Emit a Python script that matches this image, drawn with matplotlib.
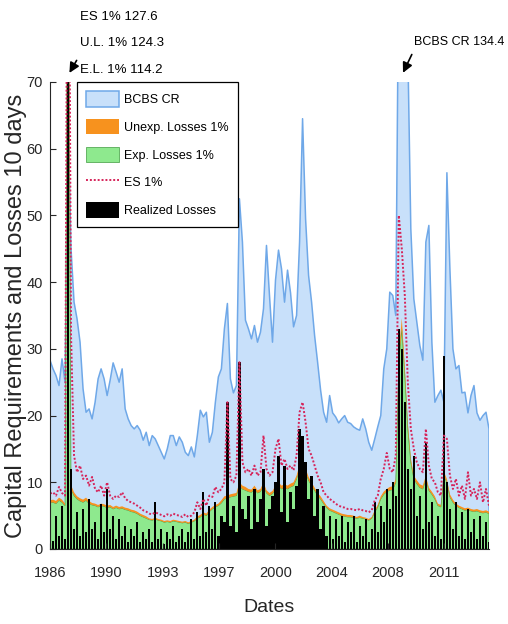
import matplotlib
matplotlib.use("Agg")
import matplotlib.pyplot as plt
import numpy as np

plt.rcParams['font.family'] = ['Liberation Sans', 'DejaVu Sans']

# 10-day capital requirement (BCBS) and loss measures, sampled along the dates axis
bcbs_cr = [28.3, 27.0, 26.0, 24.5, 28.5, 25.0, 63.5, 45.0, 37.0, 34.5,
           31.0, 24.0, 20.5, 21.0, 19.5, 22.0, 25.5, 27.0, 25.5, 23.0,
           25.3, 27.9, 26.5, 25.0, 27.0, 21.0, 19.5, 18.5, 18.0, 18.5,
           17.8, 16.3, 17.5, 15.5, 17.0, 16.5, 15.5, 14.5, 13.5, 15.0,
           17.0, 17.0, 15.5, 16.8, 16.0, 14.5, 14.0, 15.3, 13.8, 17.0,
           20.8, 19.8, 20.5, 16.0, 17.5, 22.0, 25.8, 27.0, 33.0, 36.8,
           25.5, 23.4, 24.5, 52.5, 46.0, 34.3, 33.0, 31.5, 33.5, 31.0,
           32.5, 36.0, 45.5, 38.0, 31.0, 40.3, 44.8, 42.0, 37.0, 41.8,
           38.4, 33.3, 35.0, 46.0, 64.5, 49.5, 41.0, 37.0, 32.0, 28.0,
           23.8, 20.5, 19.0, 23.0, 20.4, 19.8, 18.9, 19.5, 20.0, 19.0,
           18.8, 18.3, 18.0, 17.8, 19.5, 18.0, 16.0, 14.8, 16.5, 18.3,
           20.0, 27.0, 30.0, 38.5, 38.0, 35.0, 90.0, 134.4, 110.0, 75.0,
           48.0, 37.5, 34.0, 30.5, 28.3, 46.0, 48.5, 31.0, 22.0, 23.0,
           23.8, 22.0, 56.4, 42.0, 30.0, 27.0, 27.5, 23.4, 23.5, 20.4,
           23.0, 24.5, 20.4, 19.3, 20.0, 20.5, 18.0]

exp_loss = [6.9, 7.0, 6.8, 7.3, 7.0, 6.5, 114.2, 9.0, 8.0, 7.5,
            7.2, 7.0, 7.3, 6.8, 6.6, 6.5, 6.3, 6.5, 6.4, 6.2,
            6.3, 6.0, 6.2, 6.0, 6.1, 5.9, 5.8, 5.6, 5.5, 5.3,
            5.0, 4.8, 4.6, 4.4, 4.3, 4.5, 4.3, 4.2, 4.0, 4.1,
            4.0, 4.2, 4.1, 4.0, 3.9, 4.0, 3.8, 4.0, 4.2, 4.6,
            4.8, 5.2, 5.0, 5.6, 6.0, 6.3, 6.5, 6.9, 7.5, 7.6,
            7.8, 7.9, 8.0, 9.5, 9.0, 8.8, 8.6, 8.5, 9.0, 8.4,
            8.6, 9.5, 8.4, 8.0, 8.3, 9.0, 9.5, 9.0, 9.2, 9.0,
            9.3, 9.5, 10.5, 12.0, 13.0, 11.5, 10.3, 9.5, 8.8, 8.0,
            7.5, 6.8, 6.2, 5.8, 5.6, 5.4, 5.2, 5.0, 4.9, 4.8,
            4.8, 4.7, 4.6, 4.7, 4.6, 4.5, 4.3, 4.6, 5.5, 6.3,
            7.5, 8.2, 8.6, 8.8, 8.9, 10.0, 28.0, 33.0, 26.0, 18.0,
            13.0, 10.5, 9.8, 9.2, 9.0, 10.5, 8.8, 8.2, 7.5, 6.5,
            6.3, 11.0, 10.0, 7.8, 7.0, 6.5, 6.2, 6.0, 5.8, 5.9,
            5.7, 5.6, 5.7, 5.5, 5.4, 5.5, 5.3]

unexp_loss = [0.4, 0.4, 0.4, 0.4, 0.4, 0.3, 10.1, 0.6, 0.5, 0.4,
              0.4, 0.4, 0.4, 0.4, 0.3, 0.3, 0.3, 0.3, 0.3, 0.3,
              0.3, 0.3, 0.3, 0.3, 0.3, 0.3, 0.3, 0.3, 0.3, 0.3,
              0.3, 0.3, 0.3, 0.2, 0.2, 0.2, 0.2, 0.2, 0.2, 0.2,
              0.2, 0.2, 0.2, 0.2, 0.2, 0.2, 0.2, 0.2, 0.2, 0.3,
              0.3, 0.3, 0.3, 0.3, 0.3, 0.3, 0.3, 0.4, 0.4, 0.4,
              0.4, 0.4, 0.4, 0.5, 0.5, 0.5, 0.4, 0.4, 0.5, 0.4,
              0.4, 0.5, 0.4, 0.4, 0.4, 0.5, 0.5, 0.5, 0.5, 0.5,
              0.5, 0.5, 0.5, 0.6, 0.7, 0.6, 0.5, 0.5, 0.4, 0.4,
              0.4, 0.4, 0.3, 0.3, 0.3, 0.3, 0.3, 0.3, 0.3, 0.3,
              0.3, 0.3, 0.2, 0.3, 0.2, 0.2, 0.2, 0.2, 0.3, 0.3,
              0.4, 0.4, 0.4, 0.5, 0.5, 0.5, 1.3, 1.6, 1.3, 0.9,
              0.6, 0.5, 0.5, 0.5, 0.5, 0.5, 0.4, 0.4, 0.4, 0.3,
              0.3, 0.6, 0.5, 0.4, 0.4, 0.3, 0.3, 0.3, 0.3, 0.3,
              0.3, 0.3, 0.3, 0.3, 0.3, 0.3, 0.3]

es_1pct = [8.3, 8.5, 8.0, 9.3, 8.4, 8.0, 127.6, 32.0, 14.0, 11.5,
           12.5, 10.5, 11.0, 9.5, 10.8, 9.0, 8.5, 9.5, 8.0, 10.0,
           8.0, 7.5, 8.0, 7.8, 8.5, 7.6, 7.2, 7.0, 6.8, 6.5,
           6.2, 5.8, 5.6, 5.3, 5.2, 5.5, 5.3, 5.1, 4.9, 5.2,
           5.0, 5.3, 5.1, 5.0, 4.8, 5.2, 4.8, 5.0, 5.5, 7.0,
           6.0, 7.5, 6.5, 8.0, 7.8, 9.3, 8.5, 9.0, 10.0, 22.0,
           10.5, 10.0, 11.0, 28.0, 13.0, 11.5, 12.0, 11.0, 12.5, 11.0,
           11.5, 17.0, 12.0, 11.0, 11.5, 15.0, 16.5, 12.5, 13.5, 12.0,
           12.5, 11.8, 14.0, 20.5, 22.0, 19.0, 15.0, 14.0, 12.5, 11.0,
           10.0, 8.5, 8.0, 7.5, 7.2, 6.8, 6.5, 6.3, 6.2, 6.0,
           6.0, 5.9, 5.8, 6.0, 5.8, 5.7, 5.5, 5.8, 7.3, 8.0,
           10.5, 12.0, 14.4, 12.0, 11.5, 14.0, 50.0, 45.0, 38.0, 25.0,
           18.0, 15.0, 13.0, 12.0, 11.5, 18.0, 12.5, 10.5, 10.0, 8.5,
           8.0, 17.0, 16.5, 11.0, 9.0, 10.5, 8.0, 9.5, 7.5, 11.5,
           8.0, 9.0, 7.5, 10.0, 7.0, 9.0, 6.5]

realized = [3.5, 1.2, 5.0, 2.0, 6.5, 1.5, 90.0, 12.0, 3.0, 5.5,
            2.0, 6.0, 2.5, 7.5, 3.0, 4.0, 1.5, 6.8, 2.5, 9.0,
            3.0, 5.0, 1.5, 4.5, 2.0, 3.5, 1.0, 3.0, 2.0, 4.0,
            1.0, 2.5, 1.5, 3.0, 1.0, 7.0, 1.5, 3.0, 0.8, 2.5,
            1.5, 3.5, 1.0, 2.0, 3.0, 1.0, 2.5, 4.5, 1.5, 5.5,
            2.0, 8.5, 2.5, 6.5, 3.0, 7.0, 2.0, 5.0, 4.0, 22.0,
            3.5, 6.5, 2.5, 28.0, 6.0, 4.5, 8.0, 3.0, 9.0, 4.0,
            7.5, 12.0, 3.5, 6.0, 8.0, 10.0, 14.0, 5.5, 12.5, 4.0,
            8.5, 6.0, 9.5, 18.0, 17.0, 13.0, 7.5, 11.0, 5.0, 9.0,
            3.0, 6.5, 2.0, 5.0, 1.5, 4.5, 2.0, 5.0, 1.0, 4.0,
            2.5, 5.0, 1.0, 3.5, 2.0, 4.5, 1.0, 3.0, 7.0, 2.5,
            6.5, 4.0, 9.0, 6.0, 10.0, 8.0, 33.0, 30.0, 22.0, 12.0,
            9.0, 14.0, 5.0, 8.0, 3.0, 16.0, 4.0, 7.0, 2.0, 5.0,
            1.5, 29.0, 10.0, 6.0, 3.0, 7.0, 2.0, 5.5, 1.5, 6.0,
            2.5, 4.5, 1.5, 5.0, 2.0, 4.0, 1.0]

year_labels = ['1986', '1990', '1993', '1997', '2000', '2004', '2008', '2011']

bcbs_cr = np.array(bcbs_cr)
exp_loss = np.array(exp_loss)
unexp_loss = np.array(unexp_loss)
es_1pct = np.array(es_1pct)
realized = np.array(realized)
x = np.arange(len(bcbs_cr))
crash = int(np.argmax(exp_loss))
peak = int(np.argmax(bcbs_cr))

txt = '#262626'
fig = plt.figure(figsize=(5.08, 6.24), dpi=100)
ax = fig.add_axes([0.0984, 0.1202, 0.8642, 0.7484])

h_cr = ax.fill_between(x, 0, bcbs_cr, facecolor='#c8e0fa', edgecolor='#6fa8e8', linewidth=1.1)
h_el = ax.fill_between(x, 0, exp_loss, facecolor='#8ee98e', edgecolor='#3f9a3f', linewidth=0.5)
h_ul = ax.fill_between(x, exp_loss, exp_loss + unexp_loss, facecolor='#f7921e', linewidth=0)
h_rl = ax.bar(x, realized, width=0.75, color='k', linewidth=0)
h_es, = ax.plot(x, es_1pct, linestyle=(0, (1, 1)), color='#d6245a', linewidth=1.4)

ax.set_xlim(0, len(x) - 1)
ax.set_ylim(0, 70)
ax.set_yticks(np.arange(0, 71, 10))
ax.set_xticks(np.arange(len(year_labels)) * 18.73)
ax.set_xticklabels(year_labels)
for s in ['top', 'right']:
    ax.spines[s].set_visible(False)
ax.spines['left'].set_color(txt)
ax.spines['bottom'].set_color(txt)
ax.tick_params(axis='both', direction='in', length=4, labelsize=10.5, colors=txt)
ax.tick_params(axis='x', pad=12)
ax.tick_params(axis='y', pad=5)

ax.set_xlabel('Dates', fontsize=14, color=txt, labelpad=14)
ax.set_ylabel('Capital Requirements and Losses 10 days', fontsize=17, color=txt)
ax.yaxis.set_label_coords(-0.053, 0.5)

leg = ax.legend([h_cr, h_ul, h_el, h_es, h_rl],
                ['BCBS CR', 'Unexp. Losses 1%', 'Exp. Losses 1%', 'ES 1%', 'Realized Losses'],
                loc='upper left', bbox_to_anchor=(0.0615, 1.0), borderaxespad=0,
                fontsize=9, fancybox=False, framealpha=1, edgecolor='k',
                handlelength=2.6, handleheight=1.5, labelspacing=1.0,
                handletextpad=0.45, borderpad=0.75)
leg.get_frame().set_linewidth(0.9)

# values of the points that run off the top of the axis
arrow = dict(arrowstyle='-|>', color='k', lw=1.2, mutation_scale=15)
ax.annotate('', xy=(crash, 71), xytext=(78, 566), textcoords='figure pixels',
            xycoords='data', arrowprops=arrow, annotation_clip=False)
fig.text(80, 607, 'ES 1%% %.1f' % es_1pct[crash], transform=None, fontsize=9.5,
         va='center', color='k')
fig.text(80, 581, 'U.L. 1%% %.1f' % (exp_loss[crash] + unexp_loss[crash]), transform=None,
         fontsize=9.5, va='center', color='k')
fig.text(80, 554, 'E.L. 1%% %.1f' % exp_loss[crash], transform=None, fontsize=9.5,
         va='center', color='k')

ax.annotate('', xy=(peak, 71), xytext=(413, 572), textcoords='figure pixels',
            xycoords='data', arrowprops=arrow, annotation_clip=False)
fig.text(414, 582, 'BCBS CR %.1f' % bcbs_cr[peak], transform=None, fontsize=9,
         va='center', color='k')

fig.savefig('out.png', dpi=100)
